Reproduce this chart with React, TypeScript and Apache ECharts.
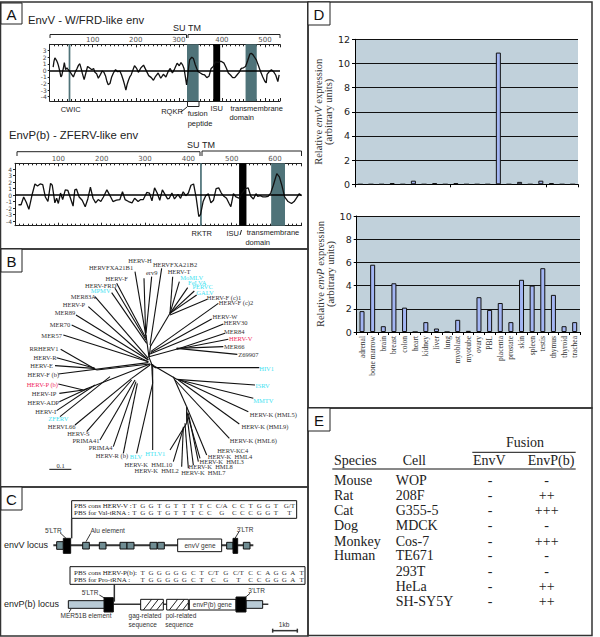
import React, { useEffect, useRef } from "react";
import * as echarts from "echarts";

const SANS = "'Liberation Sans', Arial, sans-serif";
const SERIF = "'Liberation Serif', serif";
const DEJAVU = "'DejaVu Sans', sans-serif";

// Panel A: hydropathy profiles
const envVPos = [8,10,12,14,16,18,20,23,26,28,30,32,34,37,40,42,47,51,55,59,63,67,70,73,76,80,84,88,92,98,102,105,109,113,118,122,126,130,133,136,140,144,148,153,158,163,167,171,174,177,180,183,186,189,193,197,202,206,212,218,224,230,236,241,246,252,258,264,270,275,280,285,290,296,301,305,309,312,315,318,320,323,325,330,334,338,342,345,350,355,360,365,370,375,380,385,392,398,405,410,415,420,425,430,435,440,445,450,455,460,465,468,472,476,480,485,490,495,500,503,505,510,515,520,525,530,533];
const envVVal = [0.5,1.4,1.9,1.7,1.5,1.2,0.8,0,-1,-0.8,-0.2,0.4,1.2,0.1,0.4,0.2,-0.2,-0.6,-1,-0.3,0.2,0.8,1,0.3,-0.5,-1.4,-0.4,0.6,0.4,0.1,0.3,-0.3,-0.5,-1.2,-0.6,-0.1,-0.3,-0.9,-1.7,-2.2,-2,-1,-0.4,0.1,-0.2,-0.1,-0.7,-1.5,-2.2,-3,-2.1,-1.5,-1,-0.7,0,0.7,0.3,-0.3,0.4,0.8,0,-0.8,-1.1,-1.5,-0.9,-0.4,-1.2,-0.6,-1,-0.2,0.3,-0.4,0.2,1.1,0.7,1.2,0.8,0.3,-0.9,-2.2,-1.2,0.6,1.6,2,1.8,0.9,0.2,-0.2,-0.4,-0.6,-0.7,-1.1,-0.9,0.3,0.6,1.3,1.2,1.4,1.1,0.4,-0.4,-0.7,-1.1,-1.1,-0.7,-0.3,0.3,0.4,0.6,1.5,2.5,2.6,2.4,2,1.6,0.7,-0.2,-1,-1.7,-1.9,-0.6,-0.2,0.1,-0.2,-0.7,-1.7,-0.7];
const envPPos = [8,14,20,26,32,36,40,46,52,58,64,70,76,82,86,92,96,100,105,110,116,122,128,134,138,142,148,155,162,168,174,180,186,192,198,204,212,220,226,234,242,248,254,262,270,276,284,290,296,304,310,316,322,328,334,340,346,352,356,362,368,376,382,388,394,400,406,412,418,424,428,434,440,446,452,458,464,470,476,482,488,494,498,504,510,518,524,532,538,544,550,556,560,566,572,578,584,590,596,604,610,616,622,630,638,644,650,656,661];
const envPVal = [-1.5,-1.5,-0.3,-1.1,-2.2,-1,0.2,1.7,1.4,1.7,1.6,-0.3,-1,1.8,1.5,-1.2,-0.5,-1.3,0.3,-0.7,0.8,0.7,-0.5,-1.7,0.8,0.9,-0.3,-0.8,-1.8,-0.6,1.2,-0.5,-1.2,-0.7,-1,-0.3,0.8,-0.2,-1,-0.8,-0.7,0.5,-0.7,-1,-1.2,-0.5,-1,-0.7,-0.7,0.4,0.3,-0.9,1.1,0.3,-0.8,0.8,0.1,-0.6,-0.5,0.3,-0.6,0.1,-0.5,0.5,-0.1,0.3,1.5,1.7,-0.4,-3.3,-3,-1,-0.1,0.2,-1.2,-0.8,1,1.1,0.3,-0.2,-0.5,-1.3,-1.8,0.2,-0.3,-0.5,0.3,1,1.1,-0.2,-0.6,0.2,-0.2,-0.1,-0.3,-0.3,-0.2,0.3,1.5,3.3,2.8,1.4,-0.3,-1,-1.3,-1,-0.4,0.2,-0.1];
const envVThinBands = [[44, 48]];
const envVTealBands = [[319, 346], [455, 481]];
const envVBlackBands = [[380, 396]];
const envPThinBands = [[427, 431]];
const envPTealBands = [[591, 623]];
const envPBlackBands = [[517, 534]];
const hydroTicksV = [3, 2, 1, 0, -1, -2, -3, -4];
const hydroTicksP = [4, 3, 2, 1, 0, -1, -2, -3, -4];

// Panel B: phylogeny, in the tree's drawing units
const treeBranches = [
  [447,412,455,432],[447,412,438,345],[447,412,452,375],[450,432,290,450],[290,450,182,388],[285,445,170,413],[282,445,165,437],
  [445,428,175,462],[450,432,250,510],[250,510,175,492],[250,510,178,520],[265,505,178,545],[285,495,170,572],[330,470,180,590],
  [450,435,395,475],[395,475,225,615],[395,480,260,635],[405,480,300,660],[408,485,340,680],[412,490,370,700],
  [455,432,458,490],[458,490,410,700],[458,432,458,690],
  [405,155,438,350],[432,175,437,345],[455,170,438,340],[485,145,450,375],
  [350,190,438,355],[345,205,438,360],[335,218,440,370],
  [285,230,445,415],[265,260,445,420],[228,285,445,420],[215,315,445,425],[190,345,445,425],
  [452,378,510,280],[510,280,518,170],[510,280,538,185],[510,280,563,203],[510,280,583,213],[510,280,590,225],[510,285,622,238],
  [452,395,655,250],[452,398,635,297],[450,402,670,312],[447,410,540,385],[540,385,675,340],[530,388,685,358],[530,385,670,380],[530,385,712,403],
  [452,432,465,443],[465,443,778,443],[452,432,530,478],[530,478,765,495],[530,478,760,535],[540,480,745,575],[535,480,718,612],[525,480,688,655],
  [520,470,560,560],[560,560,560,610],[560,560,620,705],[560,575,600,715],[565,580,595,725],[560,580,580,735],[555,610,565,745],[550,620,545,740],[550,625,520,725],[560,610,510,690],
];
const treeLabels: [string, number, number, string][] = [
  ["HERV-H",420,122,"k"],["HERVFXA21B1",333,142,"k"],["HERVFXA21B2",525,133,"k"],["erv9",455,157,"k"],["HERV-T",537,155,"k"],
  ["MoMLV",575,172,"c"],["FeLVA",592,188,"c"],["PERVC",608,200,"c"],["GALV",615,218,"c"],["HERV-F (c)1",672,233,"k"],["HERV-F (c)2",708,248,"k"],
  ["HERV-F",350,175,"k"],["HERV-FRD",302,195,"k"],["MPMV",302,212,"c"],["MER83A",250,229,"k"],["HERV-P",222,253,"k"],["MER89",195,278,"k"],
  ["MER70",180,312,"k"],["MER57",155,346,"k"],["RRHERV1",132,386,"k"],["HERV-R",135,412,"k"],["HERV-E",125,437,"k"],["HERV-F (b)",130,463,"k"],
  ["HERV-P (b)",127,492,"r"],["HERV-IP",132,520,"k"],["HERV-ADP",130,547,"k"],["HERV-I",137,573,"k"],["ZFERV",175,596,"c"],["HERVL66",185,620,"k"],
  ["HERV-S",235,641,"k"],["PRIMA41",258,662,"k"],["PRIMA4",302,682,"k"],["HERV-R (b)",336,707,"k"],["BLV",408,709,"c"],["HTLV1",466,700,"c"],
  ["HERV-K  HML10",445,733,"k"],["HERV-K  HML2",470,752,"k"],["HERV-K  HML7",610,757,"k"],["HERV-K  HML8",632,740,"k"],["HERV-K  HML3",665,724,"k"],
  ["HERV-K  HML4",690,708,"k"],["HERV-KC4",698,692,"k"],["HERV-K (HML6)",760,662,"k"],["HERV-K (HML9)",795,620,"k"],["HERV-K (HML5)",820,583,"k"],
  ["MMTV",790,540,"c"],["ISRV",788,495,"c"],["HIV1",800,445,"c"],["Z69907",745,403,"k"],["MER66",703,380,"k"],["HERV-V",722,356,"r"],
  ["MER84",703,333,"k"],["HERV30",707,307,"k"],["HERV-W",675,290,"k"],["0.1",182,736,"k"],
];
const treeScale = [[148,748,214,748]];

// Panel C: loci, in the diagram's drawing units
const locusLines = [
  [160,181,760,181,2],[340,358,805,358,1.5],[215,100,215,160,1.5],[343,298,343,350,1.5],
  [180,143,198,160,1],[272,145,258,170,1],[717,140,705,160,1],[298,330,315,340,1],[750,325,735,338,1],[213,372,207,382,1],
  [818,437,892,437,1.5],[818,431,818,443,1.5],[892,431,892,443,1.5],
];
const locusBoxes: [number, number, number, number, string][] = [
  [215,47,890,100,"w"],[210,245,915,298,"w"],
  [170,170,190,193,"t"],[248,172,268,192,"t"],[298,172,318,192,"t"],[360,172,381,192,"t"],[381,172,402,192,"t"],[450,172,471,192,"t"],[473,172,493,192,"t"],
  [533,162,665,200,"w"],[680,172,699,192,"t"],[730,172,750,192,"t"],[190,160,212,205,"b"],[699,160,713,205,"b"],
  [205,347,325,370,"l"],[738,347,788,370,"l"],[422,343,490,375,"w"],[500,343,565,375,"w"],[568,343,708,375,"w"],[312,338,340,381,"b"],[708,336,738,381,"b"],
];
const hatchLines = [
  [430,375,455,343],[450,375,475,343],[470,375,490,350],[508,375,533,343],[528,375,553,343],[548,375,565,353],
];
const pbsTexts: [string, number, number, string][] = [
  ["PBS cons HERV-V :",222,62,"s"],["PBS for Val-tRNA :",222,85,"s"],["PBS cons HERV-P(b):",222,264,"s"],["PBS for Pro-tRNA :",222,285,"s"],
  ["envV gene",600,181,"g"],["envP(b) gene",637,359,"g"],["5'LTR",160,135,"g"],["Alu element",323,135,"g"],["3'LTR",735,132,"g"],
  ["5'LTR",270,322,"g"],["3'LTR",770,316,"g"],["MER51B element",258,392,"g"],["gag-related",435,392,"g"],["sequence",428,417,"g"],["pol-related",543,392,"g"],["sequence",538,417,"g"],["1kb",852,417,"g"],
];
const seqRows: [number, string[], number[]][] = [
  [62,["T","G","G","T","G","T","T","T","T","C","C/A","C","C","T","G","G","T","G/T"],[403,428,453,478,503,528,553,578,603,628,665,703,727,752,778,803,828,868]],
  [85,["T","G","G","T","G","T","T","T","C","C","G","C","C","C","G","G","T","T"],[403,428,453,478,503,528,553,578,603,628,665,703,727,752,778,803,828,868]],
  [264,["T","G","G","G","G","G","C","T","C/T","G","C/T","C","C","A","G","G","A","T"],[428,453,478,503,528,553,580,605,640,677,715,752,777,803,828,853,878,905]],
  [285,["T","G","G","G","G","G","C","T","C","G","T","C","C","G","G","G","A","T"],[428,453,478,503,528,553,580,605,640,677,715,752,777,803,828,853,878,905]],
];

// Panel D: expression
const tissues = ["adrenal","bone marrow","brain","breast","colon","heart","kidney","liver","lung","myoblast","myotube","ovary","PBL","placenta","prostate","skin","spleen","testis","thymus","thyroid","trachea"];
const envVExpr = [0,0,0,0.1,0,0.3,0,0.1,0,0.1,0,0,0,10.9,0,0.2,0,0.3,0.1,0,0];
const envPExpr = [1.8,5.8,0.5,4.2,2.1,0,0.85,0.3,0,1.05,0.1,3,1.9,2.5,0.85,4.5,4,5.5,3.2,0.5,0.85];

// Panel E: fusion table
const species = ["Mouse","Rat","Cat","Dog","Monkey","Human","","",""];
const cells = ["WOP","208F","G355-5","MDCK","Cos-7","TE671","293T","HeLa","SH-SY5Y"];
const fusionV = ["-","-","-","-","-","-","-","-","-"];
const fusionP = ["-","++","+++","-","+++","-","-","++","++"];
const rowY = [480.7,495.7,510.3,525.7,541,555.7,571,586,601.3];

const TEAL = "#4f7379";
const leafColor: Record<string, string> = { k: "#333333", c: "#3fe3f2", r: "#f02a5c" };
const boxFill: Record<string, string> = { w: "#ffffff", t: "#6f8c92", b: "#000000", l: "#b9cbd6" };

const bandArea = (bands: number[][], color: string) => bands.map(([a, b]) => [
  { xAxis: a, itemStyle: { color, opacity: 1 } }, { xAxis: b },
]);

function hydroSeries(xi: number, yi: number, pos: number[], val: number[], thin: number[][], teal: number[][], black: number[][]) {
  return {
    type: "line", xAxisIndex: xi, yAxisIndex: yi, data: pos.map((p, i) => [p, val[i]]),
    showSymbol: false, lineStyle: { color: "#111", width: 1.3 }, silent: true, z: 3,
    markArea: { silent: true, data: [...bandArea(thin, TEAL), ...bandArea(teal, TEAL), ...bandArea(black, "#000")] },
    markLine: { silent: true, symbol: "none", label: { show: false }, lineStyle: { color: "#000", width: 1.5, type: "solid" }, data: [{ yAxis: 0 }] },
  };
}

function hydroX(gi: number, max: number, top: boolean) {
  return {
    type: "value", gridIndex: gi, min: 0, max, interval: 100, position: top ? "top" : "bottom",
    axisLine: { show: true, onZero: false, lineStyle: { color: "#222", width: 1 } },
    axisTick: { show: true, inside: true, length: 3, lineStyle: { color: "#222" } },
    minorTick: { show: true, splitNumber: 10, length: 2, lineStyle: { color: "#222" } },
    axisLabel: { show: top, color: "#555", fontSize: 7, fontFamily: DEJAVU, margin: 1, showMinLabel: false, showMaxLabel: false },
    splitLine: { show: false },
  };
}
function hydroY(gi: number, min: number, max: number, ticks: number[]) {
  return {
    type: "value", gridIndex: gi, min, max,
    axisLine: { show: true, onZero: false, lineStyle: { color: "#222" } },
    axisTick: { show: true, length: 2, customValues: ticks, lineStyle: { color: "#222" } },
    axisLabel: { color: "#444", fontSize: 6, fontFamily: DEJAVU, margin: 3, customValues: ticks },
    splitLine: { show: false },
  };
}
const hiddenX = (gi: number, max: number) => ({ type: "value", gridIndex: gi, min: 0, max, show: false });
const hiddenY = (gi: number, max: number) => ({ type: "value", gridIndex: gi, min: 0, max, inverse: true, show: false });

function lineSeries(xi: number, yi: number, segs: number[][], width: number, color: string) {
  return {
    type: "custom", xAxisIndex: xi, yAxisIndex: yi, silent: true, clip: false, z: 3,
    data: segs,
    encode: { x: [0, 2], y: [1, 3] },
    renderItem: (_: any, api: any) => {
      const a = api.coord([api.value(0), api.value(1)]);
      const b = api.coord([api.value(2), api.value(3)]);
      const w = segs[_.dataIndex][4] ?? width;
      return { type: "line", shape: { x1: a[0], y1: a[1], x2: b[0], y2: b[1] }, style: { stroke: color, lineWidth: w } };
    },
  };
}
function textSeries(xi: number, yi: number, items: { t: string; x: number; y: number; font: string; fill: string; align?: string }[]) {
  return {
    type: "custom", xAxisIndex: xi, yAxisIndex: yi, silent: true, clip: false, z: 5,
    data: items.map((d) => [d.x, d.y]),
    renderItem: (p: any, api: any) => {
      const d = items[p.dataIndex];
      const c = api.coord([api.value(0), api.value(1)]);
      return { type: "text", x: c[0], y: c[1], style: { text: d.t, font: d.font, fill: d.fill, align: d.align ?? "center", verticalAlign: "middle" } };
    },
  };
}

function barX(gi: number, labels: boolean) {
  return {
    type: "category", gridIndex: gi, data: tissues,
    axisLine: { show: true, onZero: false, lineStyle: { color: "#000" } },
    axisTick: { show: true, length: 3, lineStyle: { color: "#000" } },
    axisLabel: labels ? { show: true, interval: 0, rotate: 90, fontSize: 7.5, fontFamily: SERIF, color: "#333", margin: 4 } : { show: false },
  };
}
function barY(gi: number, max: number, gene: string) {
  return {
    type: "value", gridIndex: gi, min: 0, max, interval: 2,
    axisLine: { show: true, onZero: false, lineStyle: { color: "#000" } },
    axisTick: { show: true, length: 3, lineStyle: { color: "#000" } },
    axisLabel: { fontSize: 9.5, fontFamily: DEJAVU, color: "#222", margin: 5 },
    splitLine: { show: true, lineStyle: { color: "#111", width: 1 } },
    name: `{a|Relative }{i|${gene}}{a| expression}\n{a|(arbitrary units)}`,
    nameLocation: "middle", nameGap: 18, nameRotate: 90,
    nameTextStyle: { rich: {
      a: { fontFamily: SERIF, fontSize: 10.5, color: "#333", lineHeight: 10 },
      i: { fontFamily: SERIF, fontSize: 10.5, color: "#333", fontStyle: "italic", lineHeight: 10 },
    } },
  };
}
const barSeries = (xi: number, yi: number, data: number[]) => ({
  type: "bar", xAxisIndex: xi, yAxisIndex: yi, data, barWidth: 5, silent: true,
  itemStyle: { color: "#a3b5f3", borderColor: "#111", borderWidth: 1 },
});

const txt = (text: string, x: number, y: number, font: string, fill = "#222", align = "center") => ({
  type: "text", x, y, z: 20, style: { text, font, fill, align, verticalAlign: "middle" },
});
const poly = (pts: number[][], w = 1, stroke = "#222") => ({
  type: "polyline", z: 20, shape: { points: pts }, style: { stroke, lineWidth: w, fill: "none" },
});
const panel = (x: number, y: number, w: number, h: number) => ({
  type: "rect", z: 15, shape: { x, y, width: w, height: h }, style: { fill: "none", stroke: "#333", lineWidth: 1.5 },
});
const tag = (s: string, x: number, y: number, w: number, h: number) => ([
  { type: "rect", z: 18, shape: { x, y, width: w, height: h }, style: { fill: "#fff", stroke: "#222", lineWidth: 1 } },
  txt(s, x + w / 2, y + h / 2 + 0.5, `15px ${SANS}`, "#111"),
]);

export default function App() {
  const ref = useRef<HTMLDivElement>(null);
  useEffect(() => {
    const chart = echarts.init(ref.current!, undefined, { renderer: "svg" });
    const f8 = `7.5px ${SANS}`;
    const tableFont = `14px ${SERIF}`;
    const treeText = treeLabels.map(([t, x, y, k]) => ({ t, x, y, font: `6.5px ${SERIF}`, fill: leafColor[k] }));
    const pbsItems = pbsTexts.map(([t, x, y, k]) => k === "s"
      ? { t, x, y, font: `7px ${SERIF}`, fill: "#222", align: "left" }
      : { t, x, y, font: `6.5px ${SANS}`, fill: "#333" });
    const seqItems = seqRows.flatMap(([y, ls, xs]) => ls.map((t, i) => ({ t, x: xs[i], y, font: `7px ${SERIF}`, fill: "#333" })));
    const tableText = [
      ...species.map((s, i) => txt(s, 334, rowY[i], tableFont, "#222", "left")),
      ...cells.map((s, i) => txt(s, 395.7, rowY[i], tableFont, "#222", "left")),
      ...fusionV.map((s, i) => txt(s, 490, rowY[i], tableFont)),
      ...fusionP.map((s, i) => txt(s, 546.7, rowY[i], tableFont)),
    ];
    chart.setOption({
      animation: false,
      backgroundColor: "#fff",
      grid: [
        { left: 49.7, top: 44.3, width: 230.3, height: 56.7 },
        { left: 15, top: 163.3, width: 286.5, height: 62.4 },
        { left: 0, top: 220, width: 300, height: 270 },
        { left: 0, top: 485, width: 310, height: 152 },
        { left: 355, top: 39.3, width: 223, height: 145, show: true, backgroundColor: "#c1d1db", borderWidth: 0 },
        { left: 356.7, top: 216, width: 223.3, height: 116, show: true, backgroundColor: "#c1d1db", borderWidth: 0 },
      ],
      xAxis: [
        hydroX(0, 535, true), hydroX(0, 535, false), hydroX(1, 661, true), hydroX(1, 661, false),
        hiddenX(2, 900), hiddenX(3, 930), barX(4, false), barX(5, true),
      ],
      yAxis: [
        hydroY(0, -4.66, 3.97, hydroTicksV), hydroY(1, -4.72, 4.88, hydroTicksP),
        hiddenY(2, 810), hiddenY(3, 456), barY(4, 12, "envV"), barY(5, 10, "envP"),
      ],
      series: [
        hydroSeries(0, 0, envVPos, envVVal, envVThinBands, envVTealBands, envVBlackBands),
        hydroSeries(2, 1, envPPos, envPVal, envPThinBands, envPTealBands, envPBlackBands),
        lineSeries(4, 2, treeBranches, 1.1, "#111"),
        lineSeries(4, 2, treeScale, 1, "#111"),
        textSeries(4, 2, treeText),
        lineSeries(5, 3, locusLines, 1, "#333"),
        {
          type: "custom", xAxisIndex: 5, yAxisIndex: 3, silent: true, clip: false, z: 4,
          data: locusBoxes.map((b) => b.slice(0, 4)),
          encode: { x: [0, 2], y: [1, 3] },
          renderItem: (p: any, api: any) => {
            const a = api.coord([api.value(0), api.value(1)]);
            const b = api.coord([api.value(2), api.value(3)]);
            return { type: "rect", shape: { x: a[0], y: a[1], width: b[0] - a[0], height: b[1] - a[1] },
              style: { fill: boxFill[locusBoxes[p.dataIndex][4]], stroke: "#111", lineWidth: 1 } };
          },
        },
        { ...lineSeries(5, 3, hatchLines, 1, "#222"), z: 5 },
        textSeries(5, 3, [...pbsItems, ...seqItems]),
        barSeries(6, 4, envVExpr),
        barSeries(7, 5, envPExpr),
      ],
      graphic: { elements: [
        panel(0.5, 2, 307.5, 247), panel(0.5, 249, 307.5, 238), panel(0.5, 487, 307.5, 149),
        panel(308, 2, 284, 406), panel(308, 408, 284, 227.5),
        ...tag("A", 1, 3, 21, 21), ...tag("B", 1, 249, 21, 23), ...tag("C", 1, 487, 21, 23),
        ...tag("D", 308, 2, 22, 23), ...tag("E", 308, 408, 22, 23),
        // Panel A annotations
        txt("EnvV - W/FRD-like env", 28, 20, `11.3px ${SANS}`, "#222", "left"),
        txt("EnvP(b) - ZFERV-like env", 9, 135, `11.3px ${SANS}`, "#222", "left"),
        txt("SU TM", 187, 28, `9px ${SANS}`), txt("SU TM", 201, 145, `9px ${SANS}`),
        poly([[50, 38], [50, 34.5], [186.5, 34.5], [186.5, 38]]), poly([[188, 38], [188, 34.5], [280, 34.5], [280, 38]]),
        poly([[17, 156], [17, 151.7], [200, 151.7], [200, 156]]), poly([[202, 156], [202, 151], [301.5, 151], [301.5, 156]]),
        poly([[187.5, 101], [187.5, 106.5], [199, 106.5], [199, 101]]), poly([[181, 112], [187, 107]]),
        poly([[240, 235], [241.5, 230]]),
        txt("CWIC", 70.7, 109, f8), txt("RQKR", 172, 111, f8), txt("fusion", 197.7, 113, f8), txt("peptide", 200, 123.5, f8),
        txt("ISU", 216.7, 108.5, f8), txt("transmembrane", 256.7, 108.5, f8), txt("domain", 241.7, 117.7, f8),
        txt("RKTR", 201.7, 233, f8), txt("ISU", 232.7, 233, f8), txt("transmembrane", 273, 232, f8), txt("domain", 257.7, 242, f8),
        // Panel C locus names
        txt("envV locus", 4, 545, `9px ${SANS}`, "#222", "left"), txt("envP(b) locus", 4, 604, `9px ${SANS}`, "#222", "left"),
        // Panel E table
        txt("Fusion", 525, 442.7, tableFont),
        txt("Species", 334, 460.7, tableFont, "#222", "left"), txt("Cell", 414.3, 460.7, tableFont),
        txt("EnvV", 489.3, 460.7, tableFont), txt("EnvP(b)", 551, 460.7, tableFont),
        poly([[472.3, 452.3], [575.7, 452.3]], 1, "#111"), poly([[332.3, 469], [575.7, 469]], 1, "#111"),
        ...tableText,
      ] },
    });
    return () => chart.dispose();
  }, []);
  return <div ref={ref} style={{ position: "absolute", left: 0, top: 0, width: 600, height: 637 }} />;
}
